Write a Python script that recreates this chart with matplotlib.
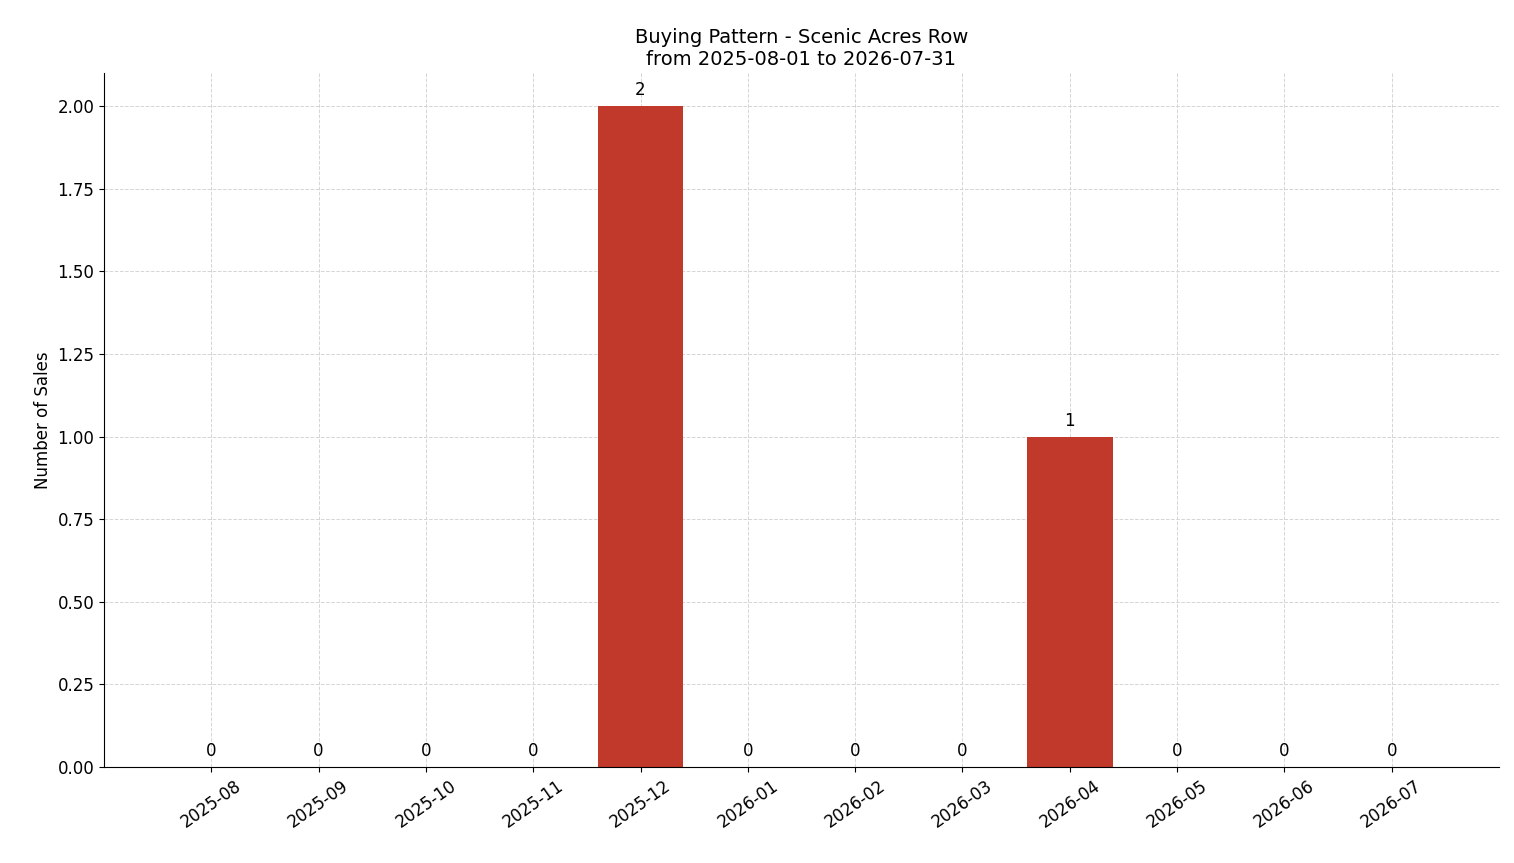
import matplotlib
matplotlib.use("Agg")
import matplotlib.pyplot as plt

months = ["2025-08","2025-09","2025-10","2025-11","2025-12","2026-01",
          "2026-02","2026-03","2026-04","2026-05","2026-06","2026-07"]
sales = [0,0,0,0,2,0,0,0,1,0,0,0]

fig = plt.figure(figsize=(15.14, 8.63), dpi=100)
ax = fig.add_axes([104/1514, 1-767/863, (1499-104)/1514, (767-73)/863])
x = list(range(len(months)))
bars = ax.bar(x, sales, width=0.8, color="#c0392b", zorder=2)
for xi, v in zip(x, sales):
    ax.text(xi, v + 0.02, str(v), ha="center", va="bottom", fontsize=12)
ax.set_xticks(x)
ax.set_xticklabels(months, rotation=35, fontsize=12)
ax.tick_params(axis="y", labelsize=12)
ax.set_xlim(-1, 12)
ax.set_ylim(0, 2.1)
ax.set_ylabel("Number of Sales", fontsize=12)
ax.set_title("Buying Pattern - Scenic Acres Row\nfrom 2025-08-01 to 2026-07-31", fontsize=14)
ax.grid(True, linestyle="--", color="#d5d5d5", linewidth=0.7, zorder=0)
ax.set_axisbelow(True)
ax.spines["top"].set_visible(False)
ax.spines["right"].set_visible(False)
fig.savefig("out.png", dpi=100)
